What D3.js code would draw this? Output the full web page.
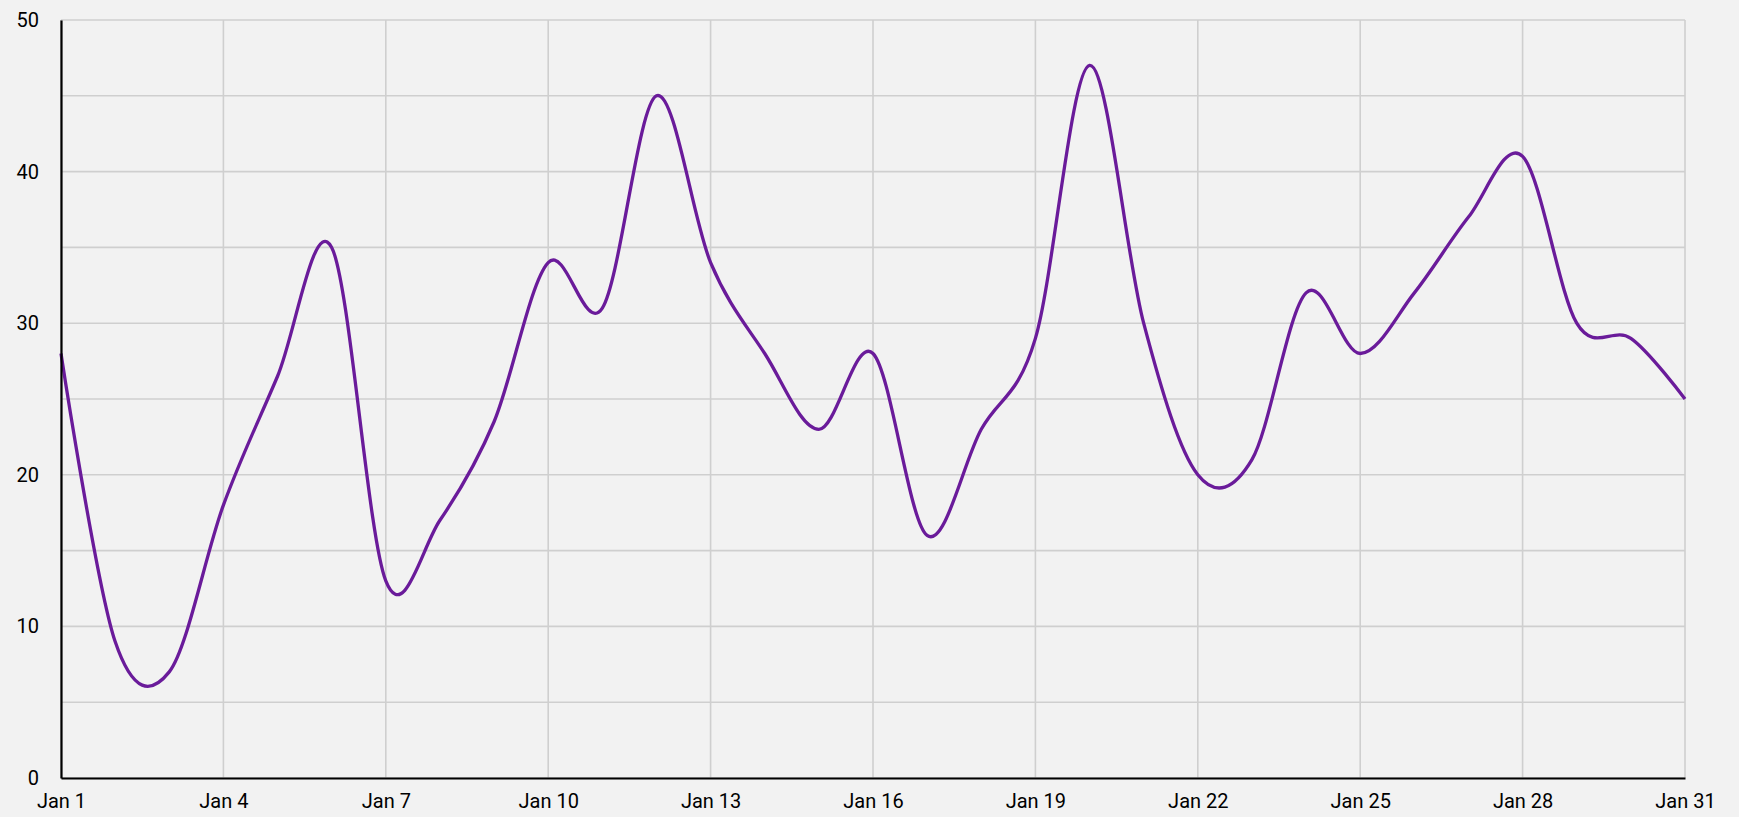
<!DOCTYPE html>
<html>
<head>
<meta charset="utf-8">
<script src="https://cdn.jsdelivr.net/npm/d3@7"></script>
<style>
  html, body { margin: 0; padding: 0; background: #f2f2f2; }
  svg { display: block; }
  text { font-family: Roboto, "Noto Sans", sans-serif; }
</style>
</head>
<body>
<svg id="chart" width="1739" height="817"></svg>
<script>
// ---- data ----
const days = d3.range(1, 32); // Jan 1 .. Jan 31
const values = [28, 9, 7, 18, 26.5, 35, 13, 17, 23.5, 34, 31, 45, 34, 28, 23, 28, 16, 23, 29, 47, 30, 20, 21, 32, 28, 32, 37, 41, 30, 29, 25];
const xTickDays = [1, 4, 7, 10, 13, 16, 19, 22, 25, 28, 31];
const yTicks = [0, 10, 20, 30, 40, 50];
const yGrid = [0, 5, 10, 15, 20, 25, 30, 35, 40, 45, 50];

const year = 2024;
const data = days.map((d, i) => ({ date: new Date(year, 0, d), value: values[i] }));

// ---- layout ----
const W = 1739, H = 817;
const m = { left: 61, right: 54, top: 20, bottom: 39 };
const svg = d3.select("#chart");

const x = d3.scaleTime()
  .domain([new Date(year, 0, 1), new Date(year, 0, 31)])
  .range([m.left, W - m.right]);
const y = d3.scaleLinear().domain([0, 50]).range([H - m.bottom, m.top]);

const fmt = d3.timeFormat("%b %-d");
const xTicks = xTickDays.map(d => new Date(year, 0, d));

// grid
const grid = svg.append("g").attr("stroke", "#cfcfcf").attr("stroke-width", 1.6);
grid.selectAll("line.h").data(yGrid).join("line")
  .attr("x1", m.left).attr("x2", W - m.right)
  .attr("y1", d => y(d)).attr("y2", d => y(d));
grid.selectAll("line.v").data(xTicks).join("line")
  .attr("x1", d => x(d)).attr("x2", d => x(d))
  .attr("y1", m.top).attr("y2", H - m.bottom);

// line
const line = d3.line()
  .x(d => x(d.date))
  .y(d => y(d.value))
  .curve(d3.curveCardinal.tension(0));

svg.append("path")
  .datum(data)
  .attr("fill", "none")
  .attr("stroke", "#6a1b9a")
  .attr("stroke-width", 3.3)
  .attr("stroke-linejoin", "round")
  .attr("d", line);

// axes
const xAxis = svg.append("g")
  .attr("transform", `translate(0,${H - m.bottom})`)
  .call(d3.axisBottom(x).tickValues(xTicks).tickFormat(fmt).tickSize(0).tickPadding(16));
xAxis.select(".domain").attr("stroke", "#000").attr("stroke-width", 2.2);
xAxis.selectAll("text").attr("font-size", 20).attr("fill", "#000")
  .attr("font-family", "Roboto, 'Noto Sans', sans-serif");

const yAxis = svg.append("g")
  .attr("transform", `translate(${m.left},0)`)
  .call(d3.axisLeft(y).tickValues(yTicks).tickSize(0).tickPadding(22));
yAxis.select(".domain").attr("stroke", "#000").attr("stroke-width", 2.2);
yAxis.selectAll("text").attr("font-size", 20).attr("fill", "#000")
  .attr("font-family", "Roboto, 'Noto Sans', sans-serif");
</script>
</body>
</html>
